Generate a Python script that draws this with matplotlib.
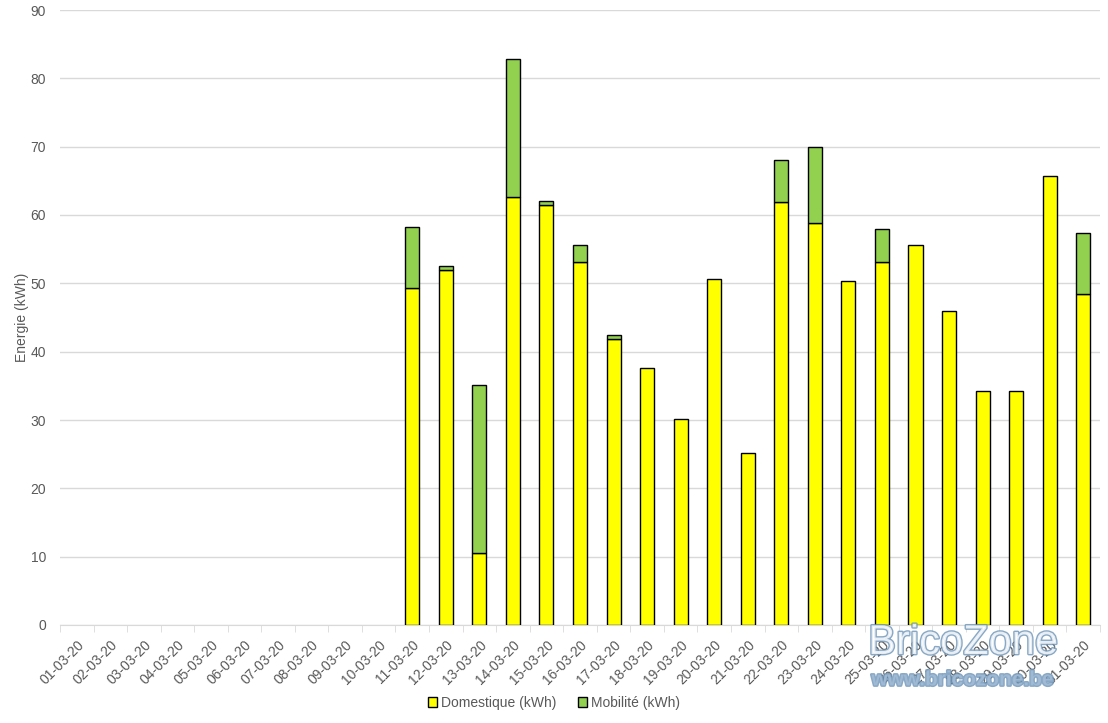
import matplotlib
matplotlib.use('Agg')
import matplotlib.pyplot as plt
import matplotlib.patheffects as pe
import numpy as np

plt.rcParams['font.family'] = ['Liberation Sans', 'DejaVu Sans']

days = [f'{d:02d}-03-20' for d in range(1, 32)]
# daily values, first 10 days empty
domestique = [0] * 10 + [49.3, 52.0, 10.6, 62.7, 61.4, 53.1, 41.8, 37.6, 30.1, 50.7,
                         25.1, 61.9, 58.9, 50.4, 53.1, 55.6, 45.9, 34.2, 34.2, 65.7, 48.5]
mobilite = [0] * 10 + [8.9, 0.5, 24.5, 20.1, 0.7, 2.5, 0.7, 0, 0, 0,
                       0, 6.1, 11.1, 0, 4.8, 0, 0, 0, 0, 0, 8.9]

text_col = '#595959'
grid_col = '#d9d9d9'

fig = plt.figure(figsize=(11.08, 7.23), dpi=100)
ax = fig.add_axes([60 / 1108, 98 / 723, 1040 / 1108, 615 / 723])

x = np.arange(len(days))
dom = np.array(domestique, dtype=float)
mob = np.array(mobilite, dtype=float)
w = 0.42
ax.bar(x, np.where(dom > 0, dom, np.nan), width=w, color='#ffff00', edgecolor='black',
       linewidth=1.0, label='Domestique (kWh)', zorder=3)
ax.bar(x, np.where(mob > 0, mob, np.nan), width=w, bottom=dom, color='#92d050',
       edgecolor='black', linewidth=1.0, label='Mobilité (kWh)', zorder=3)

ax.set_xlim(-0.5, len(days) - 0.5)
ax.set_ylim(0, 90)
ax.set_yticks(range(0, 91, 10))
ax.yaxis.grid(True, color=grid_col, linewidth=1.0, zorder=0)
ax.tick_params(axis='y', length=0, labelsize=10, labelcolor=text_col, pad=10)

ax.set_xticks(x)
ax.set_xticklabels(days, rotation=45, ha='right', rotation_mode='anchor',
                   fontsize=10, color=text_col)
ax.tick_params(axis='x', length=0, pad=9)
ax.set_xticks(np.arange(-0.5, len(days)), minor=True)
ax.tick_params(axis='x', which='minor', length=5, color=grid_col)

for s in ['top', 'right', 'left']:
    ax.spines[s].set_visible(False)
ax.spines['bottom'].set_color(grid_col)

ax.set_ylabel('Energie (kWh)', fontsize=10, color=text_col)
ax.yaxis.set_label_coords(-31 / 1040, 0.5)

leg = fig.legend(loc='center', bbox_to_anchor=(0.5, 20 / 723), ncol=2, frameon=False,
                 fontsize=10, handlelength=0.7, handleheight=0.7, handletextpad=0.3,
                 columnspacing=1.5)
for t in leg.get_texts():
    t.set_color(text_col)

# watermark
fig.text(963 / 1108, 1 - 643 / 723, 'BricoZone', fontsize=30, color='#ffffff', ha='center',
         va='center', path_effects=[pe.withStroke(linewidth=2, foreground='#6b93b8')], alpha=0.8)
fig.text(963 / 1108, 1 - 680 / 723, 'www.bricozone.be', fontsize=15, fontweight='bold',
         color='#a9c1d9', ha='center', va='center',
         path_effects=[pe.withStroke(linewidth=2, foreground='#6b93b8')], alpha=0.8)

fig.savefig('out.png', dpi=100)
